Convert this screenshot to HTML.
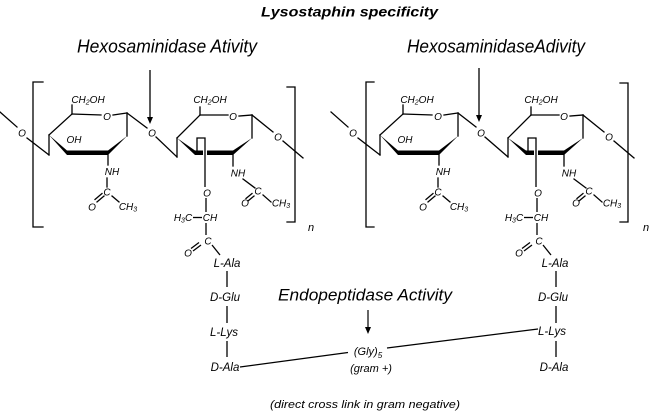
<!DOCTYPE html>
<html>
<head>
<meta charset="utf-8">
<style>
  html,body{margin:0;padding:0;background:#fff;}
  svg{display:block;}
  text{font-family:"Liberation Sans",Arial,sans-serif;font-style:italic;fill:#000;}
</style>
</head>
<body>
<svg width="650" height="412" viewBox="0 0 650 412" xmlns="http://www.w3.org/2000/svg">
  <rect width="650" height="412" fill="#fff"/>

  <!-- Titles -->
  <text x="261" y="16.5" font-size="14" font-weight="bold" textLength="177" lengthAdjust="spacingAndGlyphs">Lysostaphin specificity</text>
  <text x="77" y="52.5" font-size="18" textLength="180" lengthAdjust="spacingAndGlyphs">Hexosaminidase Ativity</text>
  <text x="407" y="52.5" font-size="18" textLength="178" lengthAdjust="spacingAndGlyphs">HexosaminidaseAdivity</text>

  <!-- Left structure -->
  <g id="unitA">
    <g stroke="#000" stroke-width="1.3" fill="none" stroke-linecap="square">
      <!-- brackets -->
      <path d="M43,82 H33 V227 H43"/>
      <path d="M287,87 H295 V222 H287"/>
      <!-- incoming link -->
      <line x1="0" y1="112" x2="17" y2="127"/>
      <line x1="27" y1="138" x2="49" y2="155"/>
      <!-- ring 1 -->
      <line x1="49" y1="135" x2="49" y2="155"/>
      <line x1="49" y1="135" x2="72" y2="114"/>
      <line x1="72" y1="114" x2="72" y2="105"/>
      <line x1="72" y1="114" x2="101" y2="115"/>
      <line x1="113" y1="115" x2="127" y2="113"/>
      <line x1="127" y1="113" x2="127" y2="136"/>
      <line x1="127" y1="113" x2="147" y2="128"/>
      <!-- NAc ring1 -->
      <line x1="108" y1="155" x2="108" y2="165"/>
      <line x1="107" y1="178" x2="107" y2="187"/>
      <line x1="104" y1="196" x2="97" y2="202"/>
      <line x1="102" y1="193.5" x2="95" y2="199.5"/>
      <line x1="112" y1="196" x2="119" y2="202"/>
      <!-- glycosidic -->
      <line x1="156" y1="137" x2="177" y2="157"/>
      <!-- ring 2 -->
      <line x1="177" y1="138" x2="177" y2="157"/>
      <line x1="177" y1="138" x2="200" y2="115"/>
      <line x1="200" y1="115" x2="200" y2="107"/>
      <line x1="200" y1="115" x2="228" y2="115"/>
      <line x1="239" y1="116" x2="252" y2="115"/>
      <line x1="252" y1="115" x2="252" y2="138"/>
      <line x1="252" y1="115" x2="273" y2="132"/>
      <line x1="283" y1="141" x2="303" y2="158"/>
      <!-- NAc ring2 -->
      <line x1="233" y1="155" x2="233" y2="166"/>
      <line x1="243" y1="179" x2="255" y2="188"/>
      <line x1="254" y1="196" x2="248" y2="201"/>
      <line x1="252" y1="193.5" x2="246" y2="198.5"/>
      <line x1="263" y1="195" x2="271" y2="202"/>
    </g>
    <!-- wedges / bold bonds -->
    <g fill="#000">
      <polygon points="49,135 67,150.5 67,155"/>
      <rect x="67" y="150.5" width="41" height="4.5"/>
      <polygon points="127,136 108,150.5 108,155"/>
      <polygon points="177,138 195,150.5 195,155"/>
      <rect x="195" y="150.5" width="38" height="4.5"/>
      <polygon points="252,138 233,150.5 233,155"/>
    </g>
    <!-- lactyl crossing -->
    <line x1="205" y1="147" x2="205" y2="160" stroke="#fff" stroke-width="4"/>
    <g stroke="#000" stroke-width="1.3" fill="none">
      <path d="M197,155 V138 H205 V187"/>
      <line x1="206" y1="198" x2="206" y2="212"/>
      <line x1="193" y1="217.5" x2="202" y2="217.5"/>
      <line x1="206" y1="223" x2="206" y2="235"/>
      <line x1="201" y1="245" x2="193" y2="251"/>
      <line x1="199" y1="242.5" x2="191" y2="248.5"/>
      <line x1="212" y1="245" x2="220" y2="255"/>
      <!-- peptide stem -->
      <line x1="227" y1="271" x2="227" y2="287"/>
      <line x1="227" y1="306" x2="227" y2="323"/>
      <line x1="227" y1="341" x2="227" y2="357"/>
      <!-- hexosaminidase arrow -->
      <line x1="150" y1="70" x2="150" y2="118"/>
    </g>
    <polygon points="147,117 153,117 150,124" fill="#000"/>

    <!-- labels -->
    <g font-size="10" text-anchor="middle">
      <text x="22" y="136.5">O</text>
      <text x="88" y="103">CH<tspan font-size="7" dy="1.5">2</tspan><tspan dy="-1.5">OH</tspan></text>
      <text x="107" y="120">O</text>
      <text x="74" y="143">OH</text>
      <text x="112" y="175">NH</text>
      <text x="107" y="195.5">C</text>
      <text x="92" y="210.5">O</text>
      <text x="128" y="210">CH<tspan font-size="7" dy="1.5">3</tspan></text>
      <text x="152" y="136.5">O</text>
      <text x="210" y="103">CH<tspan font-size="7" dy="1.5">2</tspan><tspan dy="-1.5">OH</tspan></text>
      <text x="233" y="120">O</text>
      <text x="278" y="140.5">O</text>
      <text x="238" y="176.5">NH</text>
      <text x="258" y="194.5">C</text>
      <text x="245" y="206.5">O</text>
      <text x="281" y="206.5">CH<tspan font-size="7" dy="1.5">3</tspan></text>
      <text x="207" y="196.5">O</text>
      <text x="183" y="221">H<tspan font-size="7" dy="1.5">3</tspan><tspan dy="-1.5">C</tspan></text>
      <text x="210" y="221">CH</text>
      <text x="208" y="244.5">C</text>
      <text x="188" y="256.5">O</text>
    </g>
    <text x="308" y="231" font-size="11">n</text>
    <g font-size="11.5" text-anchor="middle">
      <text x="227" y="267">L-Ala</text>
      <text x="225" y="301">D-Glu</text>
      <text x="224" y="336">L-Lys</text>
      <text x="225" y="371">D-Ala</text>
    </g>
  </g>

  <!-- Right structure (same unit shifted) -->
  <g transform="translate(331,0)">
    <g stroke="#000" stroke-width="1.3" fill="none" stroke-linecap="square">
      <path d="M43,82 H35 V227 H43"/>
      <path d="M289,83 H297 V222 H289"/>
      <line x1="0" y1="112" x2="17" y2="127"/>
      <line x1="27" y1="138" x2="49" y2="155"/>
      <line x1="49" y1="135" x2="49" y2="155"/>
      <line x1="49" y1="135" x2="72" y2="114"/>
      <line x1="72" y1="114" x2="72" y2="105"/>
      <line x1="72" y1="114" x2="101" y2="115"/>
      <line x1="113" y1="115" x2="127" y2="113"/>
      <line x1="127" y1="113" x2="127" y2="136"/>
      <line x1="127" y1="113" x2="145" y2="127"/>
      <line x1="108" y1="155" x2="108" y2="165"/>
      <line x1="107" y1="178" x2="107" y2="187"/>
      <line x1="104" y1="196" x2="97" y2="202"/>
      <line x1="102" y1="193.5" x2="95" y2="199.5"/>
      <line x1="112" y1="196" x2="119" y2="202"/>
      <line x1="154" y1="137" x2="177" y2="157"/>
      <line x1="177" y1="138" x2="177" y2="157"/>
      <line x1="177" y1="138" x2="200" y2="115"/>
      <line x1="200" y1="115" x2="200" y2="107"/>
      <line x1="200" y1="115" x2="228" y2="115"/>
      <line x1="239" y1="116" x2="252" y2="115"/>
      <line x1="252" y1="115" x2="252" y2="138"/>
      <line x1="252" y1="115" x2="273" y2="132"/>
      <line x1="283" y1="141" x2="303" y2="158"/>
      <line x1="233" y1="155" x2="233" y2="166"/>
      <line x1="243" y1="179" x2="255" y2="188"/>
      <line x1="254" y1="196" x2="248" y2="201"/>
      <line x1="252" y1="193.5" x2="246" y2="198.5"/>
      <line x1="263" y1="195" x2="271" y2="202"/>
    </g>
    <g fill="#000">
      <polygon points="49,135 67,150.5 67,155"/>
      <rect x="67" y="150.5" width="41" height="4.5"/>
      <polygon points="127,136 108,150.5 108,155"/>
      <polygon points="177,138 195,150.5 195,155"/>
      <rect x="195" y="150.5" width="38" height="4.5"/>
      <polygon points="252,138 233,150.5 233,155"/>
    </g>
    <line x1="205" y1="147" x2="205" y2="160" stroke="#fff" stroke-width="4"/>
    <g stroke="#000" stroke-width="1.3" fill="none">
      <path d="M197,155 V138 H205 V187"/>
      <line x1="206" y1="198" x2="206" y2="212"/>
      <line x1="193" y1="217.5" x2="202" y2="217.5"/>
      <line x1="206" y1="223" x2="206" y2="235"/>
      <line x1="201" y1="245" x2="193" y2="251"/>
      <line x1="199" y1="242.5" x2="191" y2="248.5"/>
      <line x1="212" y1="245" x2="220" y2="255"/>
      <line x1="225" y1="271" x2="225" y2="287"/>
      <line x1="225" y1="306" x2="225" y2="323"/>
      <line x1="225" y1="341" x2="225" y2="357"/>
      <line x1="148" y1="68" x2="148" y2="116"/>
    </g>
    <polygon points="145,115 151,115 148,122" fill="#000"/>
    <g font-size="10" text-anchor="middle">
      <text x="22" y="136.5">O</text>
      <text x="86" y="103">CH<tspan font-size="7" dy="1.5">2</tspan><tspan dy="-1.5">OH</tspan></text>
      <text x="107" y="120">O</text>
      <text x="74" y="143">OH</text>
      <text x="112" y="175">NH</text>
      <text x="107" y="195.5">C</text>
      <text x="92" y="210.5">O</text>
      <text x="128" y="210">CH<tspan font-size="7" dy="1.5">3</tspan></text>
      <text x="150" y="136.5">O</text>
      <text x="210" y="103">CH<tspan font-size="7" dy="1.5">2</tspan><tspan dy="-1.5">OH</tspan></text>
      <text x="233" y="120">O</text>
      <text x="278" y="140.5">O</text>
      <text x="238" y="176.5">NH</text>
      <text x="258" y="194.5">C</text>
      <text x="245" y="206.5">O</text>
      <text x="281" y="206.5">CH<tspan font-size="7" dy="1.5">3</tspan></text>
      <text x="207" y="196.5">O</text>
      <text x="183" y="221">H<tspan font-size="7" dy="1.5">3</tspan><tspan dy="-1.5">C</tspan></text>
      <text x="210" y="221">CH</text>
      <text x="208" y="244.5">C</text>
      <text x="188" y="256.5">O</text>
    </g>
    <text x="312" y="231" font-size="11">n</text>
    <g font-size="11.5" text-anchor="middle">
      <text x="224" y="267">L-Ala</text>
      <text x="222" y="301">D-Glu</text>
      <text x="221" y="335">L-Lys</text>
      <text x="223" y="371">D-Ala</text>
    </g>
  </g>

  <!-- Endopeptidase section -->
  <text x="278" y="300.5" font-size="17" textLength="174" lengthAdjust="spacingAndGlyphs">Endopeptidase  Activity</text>
  <line x1="368" y1="310" x2="368" y2="328" stroke="#000" stroke-width="1.2"/>
  <polygon points="365,327 371,327 368,334" fill="#000"/>
  <line x1="240" y1="367" x2="348" y2="352.5" stroke="#000" stroke-width="1.2"/>
  <line x1="387" y1="348" x2="538" y2="329" stroke="#000" stroke-width="1.2"/>
  <text x="368" y="355" font-size="11" text-anchor="middle">(Gly)<tspan font-size="8" dy="3">5</tspan></text>
  <text x="371" y="372" font-size="11" text-anchor="middle">(gram +)</text>
  <text x="270" y="408" font-size="11" textLength="190" lengthAdjust="spacingAndGlyphs">(direct cross link in gram negative)</text>
</svg>
</body>
</html>
